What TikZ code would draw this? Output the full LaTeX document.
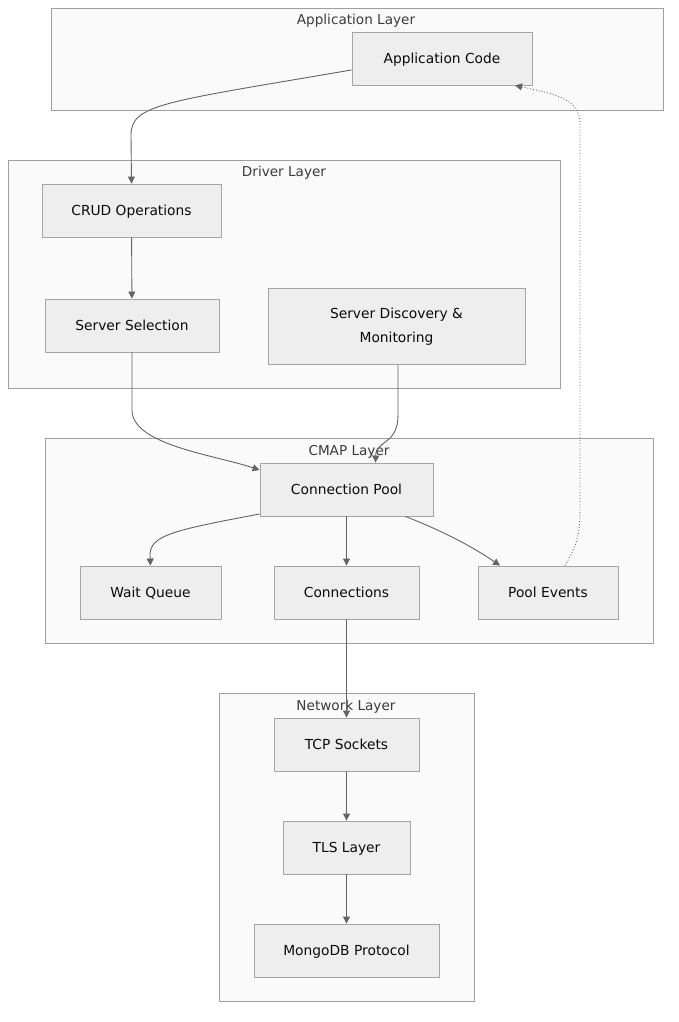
\documentclass[tikz,border=0pt]{standalone}
\usepackage{fontspec}
\setmainfont{DejaVu Sans}
\usepackage{xcolor}
\usepackage{tikz}
\usetikzlibrary{calc}
\usetikzlibrary{arrows.meta}
\definecolor{layerfill}{RGB}{250,250,250}
\definecolor{layerline}{RGB}{160,160,160}
\definecolor{boxfill}{RGB}{238,238,238}
\definecolor{boxline}{RGB}{165,165,165}
\definecolor{flowline}{RGB}{100,100,100}
\definecolor{labeltext}{RGB}{10,10,10}
\tikzstyle{layerbox} = [draw=layerline, fill=layerfill, line width=0.9pt,
rectangle, inner sep=0pt]
\tikzstyle{layertitle} = [text=labeltext!80!white, font=\fontsize{13.6}{15}\selectfont, inner sep=0pt]
\tikzstyle{compbox} = [draw=boxline, fill=boxfill, line width=0.9pt,
rectangle, inner sep=0pt, text=labeltext, font=\fontsize{13.8}{24}\selectfont, align=center]
\tikzstyle{onelinebox} = [compbox, text height=14pt, text depth=3.3pt]
\tikzstyle{flow} = [draw=flowline, line width=0.9pt, -{Triangle[length=7pt,width=7pt]}]
\tikzstyle{backflow} = [flow, dotted]

\begin{document}
\begin{tikzpicture}[x=1pt, y=-1pt]
        \useasboundingbox (0,0) rectangle (679,1022);
        \node [layerbox, minimum width=612, minimum height=102] (applayer) at (357,59) {};
        \node [layertitle] at (356,20.5) {Application Layer};
        \node [layerbox, minimum width=552, minimum height=228] (drvlayer) at (284,274) {};
        \node [layertitle] at (284,172.5) {Driver Layer};
        \node [layerbox, minimum width=608, minimum height=205] (cmaplayer) at (349,540.5) {};
        \node [layertitle] at (349,451.5) {CMAP Layer};
        \node [layerbox, minimum width=255, minimum height=308] (netlayer) at (346.5,847) {};
        \node [layertitle] at (346,706.5) {Network Layer};

        \node [onelinebox, minimum width=180, minimum height=53] (appcode) at (442,58.5) {Application Code};
        \node [onelinebox, minimum width=179, minimum height=53] (crud) at (131.5,210.5) {CRUD Operations};
        \node [onelinebox, minimum width=174, minimum height=53] (sersel) at (132,325.5) {Server Selection};
        \node [compbox, minimum width=257, minimum height=76] (serdisc) at (396.5,326.5) {Server Discovery \&\\Monitoring};
        \node [onelinebox, minimum width=173, minimum height=53] (conpool) at (346.5,489.5) {Connection Pool};
        \node [onelinebox, minimum width=141, minimum height=53] (waitq) at (150.5,592.5) {Wait Queue};
        \node [onelinebox, minimum width=145, minimum height=53] (conns) at (346.5,592.5) {Connections};
        \node [onelinebox, minimum width=140, minimum height=53] (poolev) at (548,592.5) {Pool Events};
        \node [onelinebox, minimum width=145, minimum height=53] (tcpsock) at (346.5,744.5) {TCP Sockets};
        \node [onelinebox, minimum width=127, minimum height=53] (tlslayer) at (346.5,847.5) {TLS Layer};
        \node [onelinebox, minimum width=185, minimum height=53] (mongoproto) at (346.5,950.5) {MongoDB Protocol};

        \draw [flow] ([yshift=15.5pt]appcode.south west) .. controls (165,102) and (131,104) .. (131,135) -- (crud.north);
        \draw [flow] (crud) -- (sersel);
        \draw [flow] (sersel.south) -- (132,410) .. controls (132,445) and (215,455) .. ([yshift=19.5pt]conpool.west);
        \draw [flow] ([xshift=1.5pt]serdisc.south) -- (398,415) .. controls (398,445) and (376,440) .. ([xshift=29pt]conpool.north);
        \draw [flow] ([yshift=-24.5pt]conpool.west) .. controls (175,530) and (150,535) .. (150,555) -- (waitq.north);
        \draw [flow] (conpool) -- (conns);
        \draw [flow] ([xshift=59pt]conpool.south) .. controls (440,530) and (470,545) .. ([xshift=-48pt]poolev.north);
        \draw [flow] (conns) -- (tcpsock);
        \draw [flow] (tcpsock) -- (tlslayer);
        \draw [flow] (tlslayer) -- (mongoproto);
        \draw [backflow] ([xshift=17pt]poolev.north) .. controls (580,540) and (580,530) .. (580,500) -- (580,125) .. controls (580,100) and (560,95) .. ([xshift=73pt]appcode.south);
    \end{tikzpicture}
\end{document}
